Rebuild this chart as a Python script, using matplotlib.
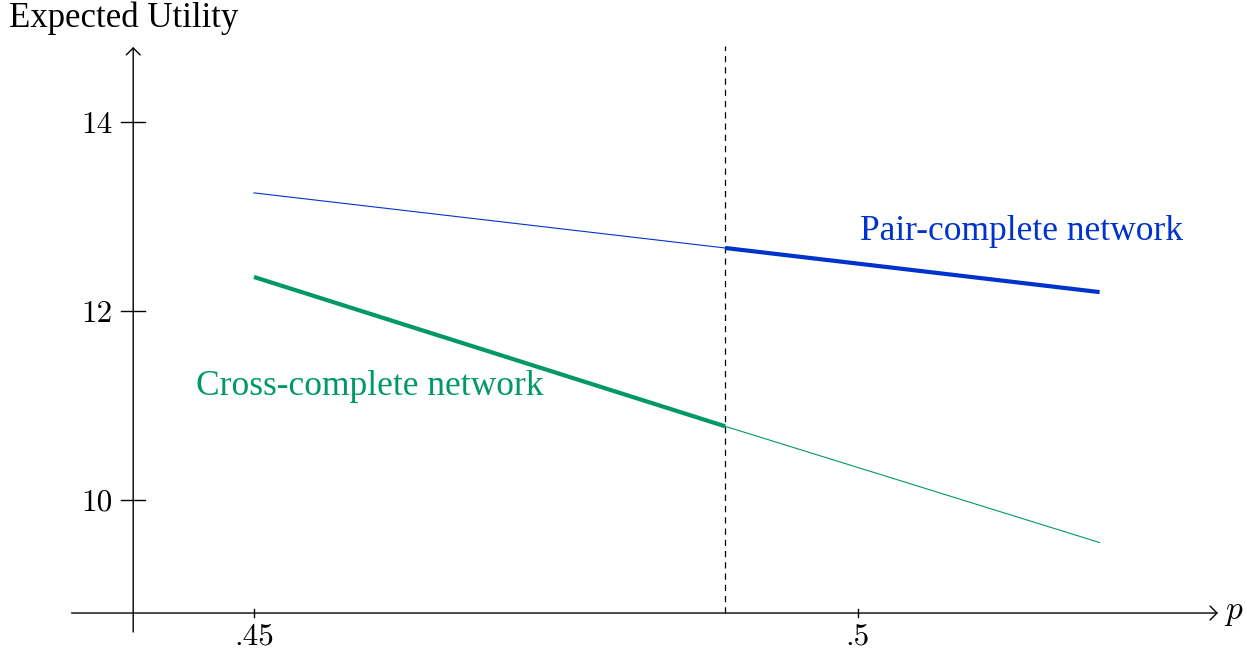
import matplotlib.pyplot as plt

plt.rcParams["mathtext.fontset"] = "cm"

# data
p_pts = [0.45, 0.489, 0.52]
pair_utility = [13.25, 12.667, 12.20]
cross_utility = [12.36, 10.78, 9.55]
p_switch = 0.489

x_ticks = [0.45, 0.5]
x_tick_labels = [".45", ".5"]
y_ticks = [10, 12, 14]
y_tick_labels = ["10", "12", "14"]

BLUE = "#0033cc"
GREEN = "#009966"
TEXT_FONT = "Liberation Serif"
NUM_FONT = "cmr10"

fig = plt.figure(figsize=(12.46, 6.53), dpi=100)
ax = fig.add_axes([0, 0, 1, 1])
ax.set_xlim(0.428974, 0.532119)
ax.set_ylim(8.381, 15.291)
ax.axis("off")

# axes with open arrow heads
x_lo, x_hi, y_axis_at = 0.4349, 0.5298, 8.804
y_lo, y_hi, x_axis_at = 8.603, 14.794, 0.44
arrow = dict(arrowstyle="->,head_length=0.5,head_width=0.5", lw=1.0,
             color="black", shrinkA=0, shrinkB=0, mutation_scale=10)
ax.annotate("", xy=(x_hi, y_axis_at), xytext=(x_lo, y_axis_at), arrowprops=arrow)
ax.annotate("", xy=(x_axis_at, y_hi), xytext=(x_axis_at, y_lo), arrowprops=arrow)

# ticks
for xt, lab in zip(x_ticks, x_tick_labels):
    ax.plot([xt, xt], [y_axis_at - 0.04, y_axis_at + 0.04], color="black", lw=1.0)
    ax.text(xt, 8.466, lab, ha="center", va="baseline", fontsize=22.5,
            family=NUM_FONT)
for yt, lab in zip(y_ticks, y_tick_labels):
    ax.plot([x_axis_at - 0.001, x_axis_at + 0.001], [yt, yt], color="black", lw=1.0)
    ax.text(x_axis_at - 0.0017, yt - 0.116, lab, ha="right", va="baseline",
            fontsize=22.5, family=NUM_FONT)

# dashed switching point
ax.plot([p_switch, p_switch], [y_axis_at, 14.8], color="black", lw=0.9,
        linestyle=(0, (5, 4)))

# thin then thick segments
ax.plot(p_pts[:2], pair_utility[:2], color=BLUE, lw=0.8)
ax.plot(p_pts[1:], pair_utility[1:], color=BLUE, lw=3.0, solid_capstyle="butt")
ax.plot(p_pts[:2], cross_utility[:2], color=GREEN, lw=3.0, solid_capstyle="butt")
ax.plot(p_pts[1:], cross_utility[1:], color=GREEN, lw=0.8)

ax.text(0.5002, 12.751, "Pair-complete network", color=BLUE, fontsize=25.5,
        family=TEXT_FONT, ha="left", va="baseline")
ax.text(0.4452, 11.111, "Cross-complete network", color=GREEN, fontsize=25.5,
        family=TEXT_FONT, ha="left", va="baseline")

ax.text(0.4297, 15.005, "Expected Utility", fontsize=25, family=TEXT_FONT,
        ha="left", va="baseline")
ax.text(0.5303, y_axis_at + 0.02, "$p$", fontsize=24, ha="left", va="center")

fig.savefig("out.png", dpi=100)
